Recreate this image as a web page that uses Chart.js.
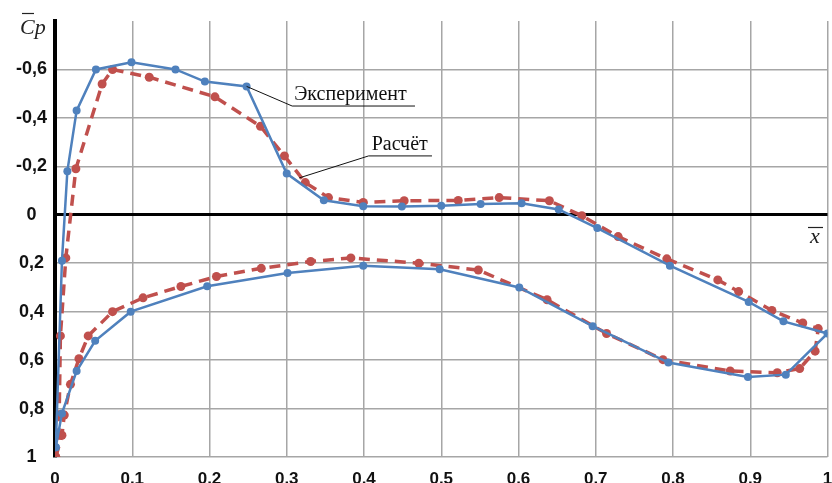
<!DOCTYPE html>
<html>
<head>
<meta charset="utf-8">
<script src="https://cdn.jsdelivr.net/npm/chart.js@4.4.1/dist/chart.umd.min.js"></script>
<style>
  body { margin: 0; background: #fff; }
  #wrap { width: 832px; height: 483px; position: relative; }
</style>
</head>
<body>
<div id="wrap"><canvas id="cpChart"></canvas></div>
<script>
// Эксперимент (blue): x/c along the profile, LE -> upper -> TE -> lower -> LE
const expX = [0.001, 0.009, 0.016, 0.028, 0.053, 0.099, 0.156, 0.194, 0.248, 0.300, 0.348, 0.399, 0.449, 0.500, 0.551, 0.604, 0.652, 0.702, 0.796, 0.898, 0.943, 1.000,
              0.946, 0.897, 0.794, 0.696, 0.601, 0.498, 0.399, 0.301, 0.197, 0.098, 0.052, 0.028, 0.009, 0.001];
const expCp = [0.96, 0.19, -0.18, -0.43, -0.60, -0.63, -0.60, -0.55, -0.53, -0.17, -0.06, -0.035, -0.034, -0.037, -0.045, -0.048, -0.022, 0.055, 0.21, 0.36, 0.44, 0.49,
               0.66, 0.67, 0.61, 0.46, 0.30, 0.225, 0.21, 0.24, 0.295, 0.40, 0.52, 0.645, 0.82, 0.96];

// Расчёт (red dashed)
const calcX = [0.001, 0.005, 0.007, 0.014, 0.027, 0.061, 0.0745, 0.122, 0.207, 0.266, 0.297, 0.324, 0.354, 0.399, 0.452, 0.522, 0.575, 0.640, 0.682, 0.729, 0.792, 0.858, 0.885, 0.928, 0.968, 0.988,
               0.984, 0.964, 0.935, 0.874, 0.787, 0.714, 0.637, 0.548, 0.471, 0.383, 0.331, 0.267, 0.209, 0.163, 0.114, 0.0745, 0.043, 0.031, 0.020, 0.012, 0.009, 0.001];
const calcCp = [1.0, 0.91, 0.50, 0.178, -0.19, -0.54, -0.60, -0.568, -0.487, -0.365, -0.243, -0.133, -0.071, -0.051, -0.058, -0.059, -0.071, -0.058, 0.004, 0.09, 0.182, 0.269, 0.317, 0.395, 0.447, 0.47,
                0.563, 0.635, 0.652, 0.645, 0.598, 0.49, 0.351, 0.228, 0.20, 0.178, 0.193, 0.221, 0.255, 0.296, 0.343, 0.40, 0.50, 0.594, 0.70, 0.827, 0.91, 1.0];

const xTicks = [0, 0.1, 0.2, 0.3, 0.4, 0.5, 0.6, 0.7, 0.8, 0.9, 1];
const yTicks = [-0.8, -0.6, -0.4, -0.2, 0, 0.2, 0.4, 0.6, 0.8, 1];

const labelExp = 'Эксперимент';
const labelCalc = 'Расчёт';

const blue = '#4F81BD';
const red = '#C0504D';

const toPoints = (xs, ys) => xs.map((x, i) => ({ x: x, y: ys[i] }));

const near = (a, b) => Math.abs(a - b) < 1e-6;

// callouts, texts and axis symbols
const callouts = {
  id: 'callouts',
  afterDraw(chart) {
    const { ctx, scales: { x, y } } = chart;
    ctx.save();

    // axis symbols
    ctx.fillStyle = '#222';
    ctx.strokeStyle = '#222';
    ctx.lineWidth = 1.2;
    ctx.font = 'italic 22px "Liberation Serif", serif';
    ctx.textBaseline = 'alphabetic';
    ctx.textAlign = 'left';
    ctx.fillText('Cp', 20, 34);
    ctx.beginPath();
    ctx.moveTo(22, 13.5);
    ctx.lineTo(34, 13.5);
    ctx.stroke();

    ctx.fillText('x', 810, 243);
    ctx.beginPath();
    ctx.moveTo(808, 227.5);
    ctx.lineTo(823, 227.5);
    ctx.stroke();

    // leader lines
    ctx.strokeStyle = '#111';
    ctx.lineWidth = 1;
    ctx.font = '20px "Liberation Serif", serif';

    const e0x = x.getPixelForValue(expX[8]), e0y = y.getPixelForValue(expCp[8]);
    const e1x = x.getPixelForValue(0.307), e1y = y.getPixelForValue(-0.449);
    const e2x = x.getPixelForValue(0.466);
    ctx.beginPath();
    ctx.moveTo(e0x, e0y);
    ctx.lineTo(e1x, e1y);
    ctx.lineTo(e2x, e1y);
    ctx.stroke();
    ctx.fillStyle = '#111';
    ctx.fillText(labelExp, e1x + 2, e1y - 6);

    const c0x = x.getPixelForValue(0.316), c0y = y.getPixelForValue(-0.152);
    const c1x = x.getPixelForValue(0.406), c1y = y.getPixelForValue(-0.243);
    const c2x = x.getPixelForValue(0.488);
    ctx.beginPath();
    ctx.moveTo(c0x, c0y);
    ctx.lineTo(c1x, c1y);
    ctx.lineTo(c2x, c1y);
    ctx.stroke();
    ctx.fillText(labelCalc, c1x + 3, c1y - 6);

    ctx.restore();
  }
};

new Chart(document.getElementById('cpChart'), {
  type: 'scatter',
  data: {
    datasets: [
      {
        label: labelExp,
        data: toPoints(expX, expCp),
        showLine: true,
        borderColor: blue,
        backgroundColor: blue,
        borderWidth: 2.5,
        pointRadius: 4,
        pointBorderWidth: 0,
        tension: 0
      },
      {
        label: labelCalc,
        data: toPoints(calcX, calcCp),
        showLine: true,
        borderColor: red,
        backgroundColor: red,
        borderWidth: 3.5,
        borderDash: [11, 7],
        pointRadius: 4.5,
        pointBorderWidth: 0,
        tension: 0
      }
    ]
  },
  options: {
    responsive: true,
    maintainAspectRatio: false,
    animation: false,
    layout: { padding: { top: 21, right: 2, left: 0, bottom: 0 } },
    plugins: {
      legend: { display: false },
      tooltip: { enabled: false }
    },
    scales: {
      x: {
        type: 'linear',
        min: 0,
        max: 1,
        afterBuildTicks: axis => { axis.ticks = xTicks.map(v => ({ value: v })); },
        afterFit: axis => {
          axis.height = 26;
          axis.paddingLeft = 0;
          axis.paddingRight = 0;
        },
        grid: { color: '#A6A6A6', lineWidth: 1.5, drawTicks: false },
        border: { display: false },
        ticks: {
          padding: 12,
          color: '#111',
          font: { family: '"Liberation Sans", Arial, sans-serif', size: 17, weight: 'bold' },
          callback: v => (near(v, 0) ? '0' : near(v, 1) ? '1' : v.toFixed(1))
        }
      },
      y: {
        type: 'linear',
        reverse: true,
        min: -0.8,
        max: 1,
        afterBuildTicks: axis => { axis.ticks = yTicks.map(v => ({ value: v })); },
        afterFit: axis => {
          axis.width = 55;
          axis.paddingTop = 0;
          axis.paddingBottom = 0;
        },
        grid: {
          drawTicks: false,
          color: c => (near(c.tick.value, 0) ? '#000' : near(c.tick.value, -0.8) ? 'rgba(0,0,0,0)' : '#A6A6A6'),
          lineWidth: c => (near(c.tick.value, 0) ? 3 : 1.5)
        },
        border: { display: true, color: '#000', width: 4 },
        ticks: {
          padding: 8,
          crossAlign: 'center',
          color: '#111',
          font: { family: '"Liberation Sans", Arial, sans-serif', size: 18, weight: 'bold' },
          callback: v => {
            if (near(v, -0.8)) return '';
            if (near(v, 0)) return '0';
            if (near(v, 1)) return '1';
            return v.toFixed(1).replace('.', ',');
          }
        }
      }
    }
  },
  plugins: [callouts]
});
</script>
</body>
</html>
